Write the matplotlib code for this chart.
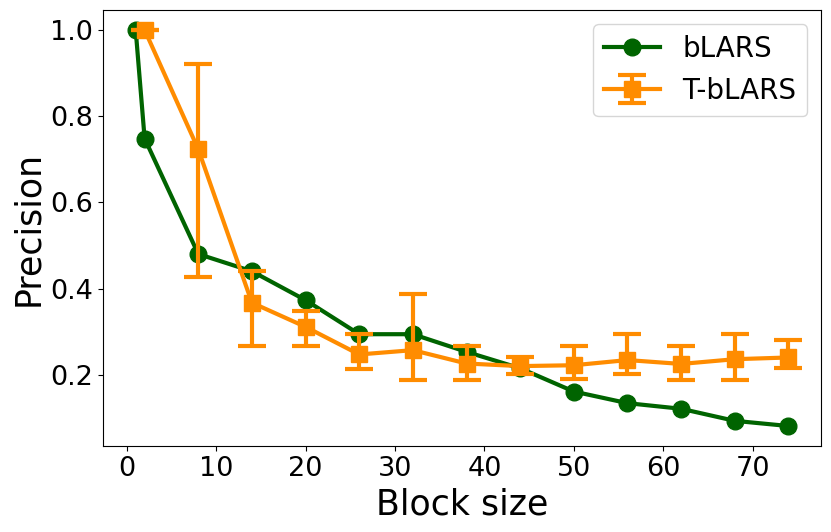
import numpy as np
import matplotlib
matplotlib.use('Agg')
import matplotlib.pyplot as plt

# BLOCK SIZES
blars_x = [1, 2, 8, 14, 20, 26, 32, 38, 44, 50, 56, 62, 68, 74]
tblars_x = [2, 8, 14, 20, 26, 32, 38, 44, 50, 56, 62, 68, 74]

# PRECISION VALUES
blars_y = [1.0, 0.748, 0.48, 0.44, 0.373, 0.294, 0.294, 0.253, 0.215,
           0.161, 0.134, 0.121, 0.093, 0.081]
tblars_y = [1.0, 0.723, 0.367, 0.311, 0.247, 0.257, 0.226, 0.220,
            0.222, 0.234, 0.225, 0.236, 0.240]
# ERROR BAR ENDS (LOWER / UPPER)
tblars_lo = [1.0, 0.427, 0.267, 0.267, 0.214, 0.188, 0.188, 0.202,
             0.189, 0.201, 0.188, 0.188, 0.215]
tblars_hi = [1.0, 0.921, 0.440, 0.348, 0.294, 0.387, 0.267, 0.240,
             0.267, 0.294, 0.267, 0.294, 0.280]

# TICKS
xticks = [0, 10, 20, 30, 40, 50, 60, 70]
yticks = [0.2, 0.4, 0.6, 0.8, 1.0]

yerr = [np.array(tblars_y) - np.array(tblars_lo),
        np.array(tblars_hi) - np.array(tblars_y)]

fig = plt.figure(figsize=(8.31, 5.32), dpi=100)
ax = fig.add_axes([0.124, 0.162, 0.864, 0.819])

ax.plot(blars_x, blars_y, color='darkgreen', marker='o', markersize=12,
        linewidth=3, label='bLARS')
ax.errorbar(tblars_x, tblars_y, yerr=yerr, color='darkorange', marker='s',
            markersize=12, linewidth=3, capsize=10, capthick=3,
            elinewidth=3, label='T-bLARS')

ax.set_xlabel('Block size', fontsize=25)
ax.set_ylabel('Precision', fontsize=25)
ax.tick_params(labelsize=19.5)
ax.set_xticks(xticks)
ax.set_yticks(yticks)
ax.legend(fontsize=20, loc='upper right')

fig.savefig('out.png', dpi=100)
